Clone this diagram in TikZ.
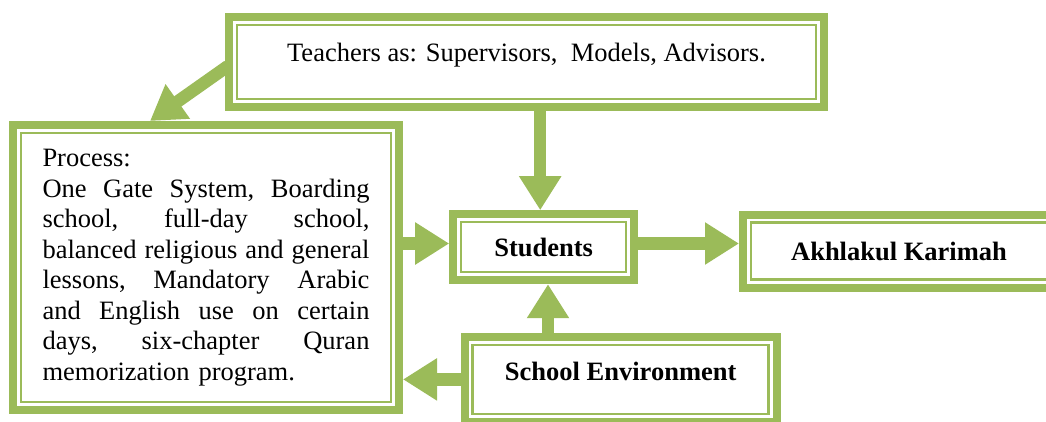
\documentclass[tikz,border=0pt]{standalone}
\usepackage{fontspec}
\setmainfont{Liberation Serif}
\usetikzlibrary{arrows.meta}
\definecolor{leafgreen}{RGB}{155,187,89}
\newcommand{\fillline}[1]{\leavevmode\hbox to 327pt{\frenchspacing\spaceskip=\fontdimen2\font plus 1fil\relax #1}}

\begin{document}
\begin{tikzpicture}[x=1pt, y=-1pt, >={Triangle[width=40pt,length=34pt]},
    font=\fontsize{26.5}{30.5}\selectfont,
    box/.style={draw=leafgreen, line width=8pt, fill=white, inner sep=0pt,
      path picture={\draw[leafgreen, line width=2.5pt]
        ([shift={(8pt,-8pt)}]path picture bounding box.north west) rectangle
        ([shift={(-8pt,8pt)}]path picture bounding box.south east);}},
    link/.style={draw=leafgreen, line width=12.5pt, ->}]
            \useasboundingbox (0,0) rectangle (1046,421);
            % Nodes
            \node[box, minimum width=595pt, minimum height=90pt, text height=18pt, text depth=20pt] (teach) at (526.5,62) {Teachers as: Supervisors,\ \ Models, Advisors.};
            \node[box, minimum width=386pt, minimum height=285pt, text width=327pt, align=left] (proc) at (206,267.5) {Process:\\
              \fillline{One Gate System, Boarding}\\
              \fillline{school, full-day school,}\\
              \fillline{balanced religious and general}\\
              \fillline{lessons, Mandatory Arabic}\\
              \fillline{and English use on certain}\\
              \fillline{days, six-chapter Quran}\\
              memorization program.};
            \node[box, minimum width=181pt, minimum height=66pt] (stud) at (543.7,247.2) {\textbf{Students}};
            \node[box, minimum width=312pt, minimum height=73pt] (akh) at (899,251.2) {\textbf{Akhlakul Karimah}};
            \node[box, minimum width=312pt, minimum height=85pt, text height=18pt, text depth=15pt] (env) at (620.7,379.4) {\textbf{School Environment}};
            \coordinate (studtop) at ([xshift=-3.5pt]stud.north);
            \coordinate (studleft) at ([yshift=3.7pt]stud.west);
            \coordinate (studright) at ([yshift=3.7pt]stud.east);
            \coordinate (studbot) at ([xshift=4.3pt]stud.south);
          % Arrows
          \draw[link] ([shift={(3pt,-4pt)}]teach.west) -- ([xshift=-56pt]proc.north);
          \draw[link] (teach.south -| studtop) -- (studtop);
          \draw[link] (proc.east |- studleft) -- (studleft);
          \draw[link] (studright) -- (studright -| akh.west);
          \draw[link] (env.north -| studbot) -- (studbot);
          \draw[link] (env.west) -- (env.west -| proc.east);
        \end{tikzpicture}
\end{document}
